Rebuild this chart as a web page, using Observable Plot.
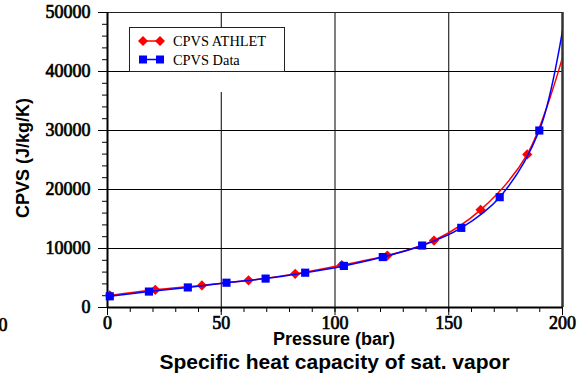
<!DOCTYPE html>
<html>
<head>
<meta charset="utf-8">
<script src="https://cdn.jsdelivr.net/npm/d3@7"></script>
<script src="https://cdn.jsdelivr.net/npm/@observablehq/plot@0.6"></script>
<style>
  html, body { margin: 0; padding: 0; background: #fff; }
</style>
</head>
<body>
<div id="chart"></div>
<script>
// Saturated-vapour specific heat capacity vs pressure
const athletPressure = [1, 21, 41.5, 62, 82.5, 103, 123, 143.5, 164, 184.5];
const athletCpvs     = [2050, 3000, 3750, 4600, 5700, 7200, 8800, 11350, 16550, 25950];
const athletEnd      = {p: 200, cp: 42400};   // curve end at the right edge

const dataPressure = [1, 18.2, 35.3, 52.3, 69.5, 86.9, 103.9, 121, 138.3, 155.5, 172.4, 189.8];
const dataCpvs     = [1900, 2700, 3400, 4200, 4900, 5900, 7050, 8550, 10500, 13500, 18700, 30000];
const dataEnd      = {p: 200, cp: 46950};

const xMajor = [0, 50, 100, 150, 200];
const yMajor = [0, 10000, 20000, 30000, 40000, 50000];
const xGrid = [50, 100, 150];
const yGrid = [10000, 20000, 30000, 40000];

const seriesNames = ["CPVS ATHLET", "CPVS Data"];
const seriesColors = ["#ff0000", "#0000ff"];

const athlet = athletPressure.map((p, i) => ({p, cp: athletCpvs[i]}));
const cpData = dataPressure.map((p, i) => ({p, cp: dataCpvs[i]}));

const serif = "'Liberation Serif', 'Times New Roman', serif";
const sans = "'Liberation Sans', Arial, sans-serif";
const plain = d => String(d);

const chart = Plot.plot({
  width: 583,
  height: 381,
  marginLeft: 107,
  marginRight: 21,
  marginTop: 12,
  marginBottom: 74,
  style: {background: "#fff", fontSize: "18px", color: "#000"},
  x: {domain: [0, 200]},
  y: {domain: [0, 50000]},
  marks: [
    Plot.gridX(xGrid, {stroke: "#000", strokeOpacity: 1, strokeWidth: 1}),
    Plot.gridY(yGrid, {stroke: "#000", strokeOpacity: 1, strokeWidth: 1}),
    Plot.ruleY([50000], {stroke: "#222", strokeWidth: 1}),
    Plot.ruleX([200], {stroke: "#333", strokeWidth: 2.5}),
    Plot.axisX(d3.range(0, 201, 10), {tickSize: 5, text: null, label: null, strokeWidth: 1}),
    Plot.axisX(xMajor, {tickSize: 8, tickPadding: 1, label: null, strokeWidth: 1, tickFormat: plain}),
    Plot.axisY(d3.range(0, 50001, 2000), {tickSize: 5, text: null, label: null, strokeWidth: 1}),
    Plot.axisY(yMajor, {tickSize: 9, tickPadding: 8, label: null, strokeWidth: 1, tickFormat: plain}),
    Plot.ruleX([0], {stroke: "#000", strokeWidth: 2}),
    Plot.ruleY([0], {stroke: "#000", strokeWidth: 2}),
    Plot.line([...athlet, athletEnd], {x: "p", y: "cp", stroke: seriesColors[0], strokeWidth: 1.5, curve: "catmull-rom", clip: true}),
    Plot.dot(athlet, {x: "p", y: "cp", symbol: "diamond2", r: 4.6, fill: seriesColors[0], stroke: "none"}),
    Plot.line([...cpData, dataEnd], {x: "p", y: "cp", stroke: seriesColors[1], strokeWidth: 1.5, curve: "catmull-rom", clip: true}),
    Plot.dot(cpData, {x: "p", y: "cp", symbol: "square", r: 4.6, fill: seriesColors[1], stroke: "none"})
  ]
});

document.getElementById("chart").append(chart);

const svg = d3.select(chart);

// Tick labels: heavy serif digits (regular face thickened with a thin outline)
svg.selectAll("text")
  .style("font-family", serif).style("font-weight", "normal")
  .attr("stroke", "#000").attr("stroke-width", 0.7).attr("fill", "#000");

// Legend box
const lg = svg.append("g").attr("text-anchor", "start");
lg.append("rect").attr("x", 129).attr("y", 27).attr("width", 156).attr("height", 65).attr("fill", "#fff");
lg.append("rect").attr("x", 129.5).attr("y", 27.5).attr("width", 155).attr("height", 44)
  .attr("fill", "#fff").attr("stroke", "#222").attr("stroke-width", 1);
seriesNames.forEach((name, i) => {
  const y = 41 + i * 18.5;
  lg.append("line").attr("x1", 143).attr("x2", 160).attr("y1", y).attr("y2", y)
    .attr("stroke", seriesColors[i]).attr("stroke-width", 1.5);
  [143, 160].forEach(x => {
    if (i === 0) {
      lg.append("path").attr("d", `M${x},${y - 5}L${x + 5},${y}L${x},${y + 5}L${x - 5},${y}Z`).attr("fill", seriesColors[i]);
    } else {
      lg.append("rect").attr("x", x - 4).attr("y", y - 4).attr("width", 8).attr("height", 8).attr("fill", seriesColors[i]);
    }
  });
  lg.append("text").attr("x", 173).attr("y", y).attr("dy", "0.35em").attr("text-anchor", "start")
    .attr("font-family", serif).attr("font-size", 14.4).attr("font-weight", "normal").attr("fill", "#000").text(name);
});

// Axis titles and chart title
svg.append("text").attr("x", 334).attr("y", 345).attr("text-anchor", "middle")
  .attr("font-family", sans).attr("font-size", 18).attr("font-weight", "bold").text("Pressure (bar)");
svg.append("text").attr("x", 334.5).attr("y", 369).attr("text-anchor", "middle")
  .attr("font-family", sans).attr("font-size", 21).attr("font-weight", "bold").text("Specific heat capacity of sat. vapor");
svg.append("text").attr("transform", "translate(29,158) rotate(-90)").attr("text-anchor", "middle")
  .attr("font-family", sans).attr("font-size", 18).attr("font-weight", "bold").text("CPVS (J/kg/K)");
svg.append("text").attr("x", 3).attr("y", 331).attr("text-anchor", "middle")
  .style("font-family", serif).attr("font-size", 18)
  .attr("stroke", "#000").attr("stroke-width", 0.7).text("0");
</script>
</body>
</html>
